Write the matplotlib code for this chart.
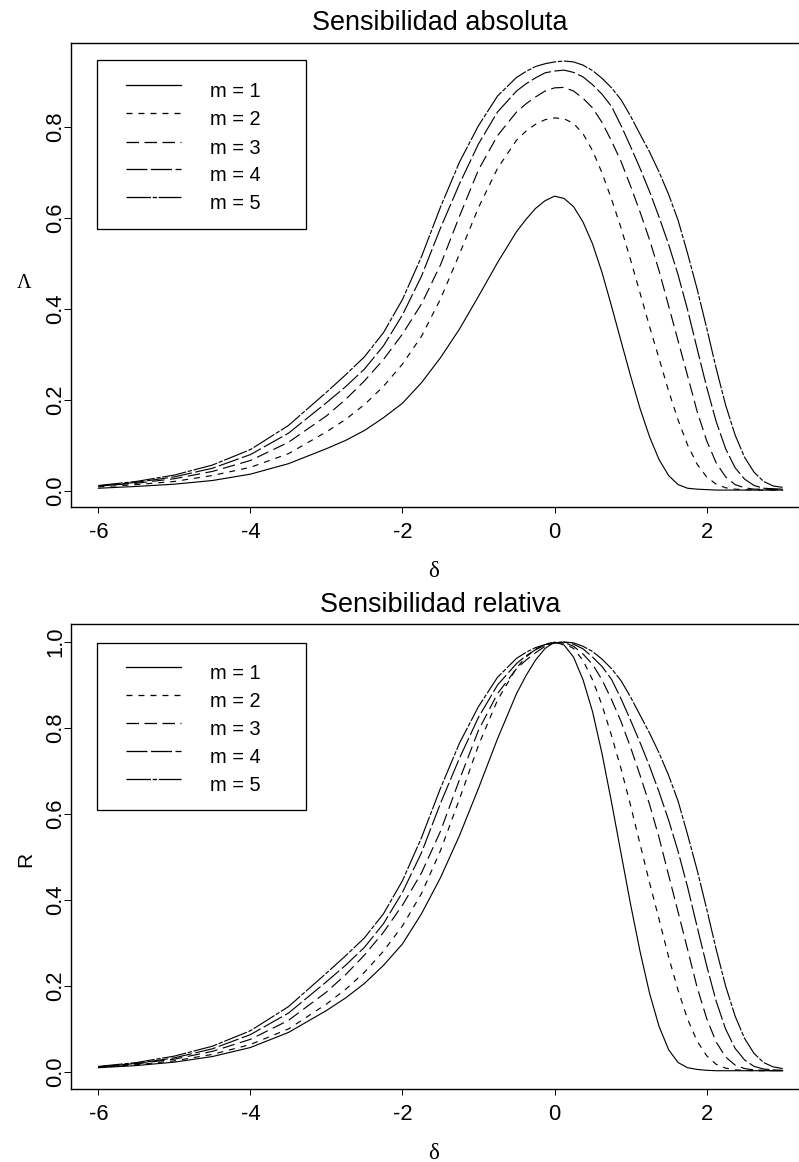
"""Absolute and relative sensitivity curves for m = 1..5, two stacked panels."""

import matplotlib

matplotlib.use("Agg")
import matplotlib.pyplot as plt
from matplotlib.lines import Line2D
from matplotlib.patches import Rectangle

FIG_W_PX = 799
FIG_H_PX = 1162
FIG_DPI = 72  # at 72 dpi one point is one pixel

DELTA = [-6, -5.5, -5, -4.5, -4, -3.5, -3, -2.75, -2.5, -2.25, -2, -1.75, -1.5,
         -1.25, -1, -0.75, -0.5, -0.375, -0.25, -0.125, 0,
         0.125, 0.25, 0.375, 0.5, 0.625, 0.75, 0.875, 1, 1.125, 1.25, 1.375, 1.5,
         1.625, 1.75, 1.875, 2, 2.125, 2.25, 2.375, 2.5, 2.625, 2.75, 2.875, 3]

# absolute sensitivity (Lambda)
ABS_M1 = [0.006, 0.010, 0.015, 0.023, 0.037, 0.060, 0.093, 0.111, 0.133, 0.161,
          0.193, 0.238, 0.293, 0.356, 0.428, 0.502, 0.570, 0.597, 0.621, 0.638, 0.648,
          0.643, 0.625, 0.591, 0.543, 0.480, 0.406, 0.329, 0.253, 0.181, 0.119,
          0.069, 0.034, 0.014, 0.006, 0.004, 0.003, 0.002, 0.002, 0.002, 0.002,
          0.002, 0.002, 0.002, 0.002]
ABS_M2 = [0.009, 0.014, 0.021, 0.034, 0.052, 0.082, 0.130, 0.157, 0.190, 0.230,
          0.279, 0.340, 0.422, 0.521, 0.623, 0.709, 0.771, 0.791, 0.806, 0.816, 0.820,
          0.818, 0.808, 0.785, 0.748, 0.699, 0.641, 0.578, 0.508, 0.435, 0.361,
          0.291, 0.220, 0.156, 0.101, 0.059, 0.031, 0.015, 0.007, 0.004, 0.003,
          0.002, 0.002, 0.002, 0.002]
ABS_M3 = [0.011, 0.017, 0.027, 0.043, 0.067, 0.107, 0.165, 0.201, 0.242, 0.289,
          0.345, 0.411, 0.497, 0.604, 0.706, 0.781, 0.833, 0.851, 0.866, 0.879, 0.886,
          0.887, 0.879, 0.863, 0.842, 0.810, 0.769, 0.724, 0.670, 0.613, 0.552,
          0.484, 0.407, 0.330, 0.253, 0.175, 0.111, 0.062, 0.031, 0.014, 0.007,
          0.004, 0.004, 0.003, 0.003]
ABS_M4 = [0.011, 0.019, 0.031, 0.050, 0.080, 0.127, 0.194, 0.229, 0.268, 0.319,
          0.387, 0.472, 0.578, 0.675, 0.763, 0.833, 0.879, 0.895, 0.908, 0.919, 0.923,
          0.925, 0.920, 0.910, 0.893, 0.872, 0.845, 0.803, 0.757, 0.709, 0.658,
          0.602, 0.542, 0.475, 0.398, 0.313, 0.229, 0.153, 0.093, 0.051, 0.026,
          0.012, 0.006, 0.005, 0.004]
ABS_M5 = [0.012, 0.021, 0.035, 0.057, 0.091, 0.144, 0.217, 0.255, 0.295, 0.348,
          0.421, 0.515, 0.624, 0.723, 0.803, 0.868, 0.909, 0.922, 0.933, 0.939, 0.943,
          0.945, 0.943, 0.936, 0.924, 0.907, 0.886, 0.860, 0.824, 0.784, 0.745,
          0.701, 0.652, 0.595, 0.522, 0.444, 0.359, 0.270, 0.189, 0.123, 0.074,
          0.041, 0.021, 0.011, 0.008]

# relative sensitivity (R)
REL_M1 = [0.010, 0.015, 0.023, 0.036, 0.057, 0.092, 0.143, 0.172, 0.206, 0.248,
          0.298, 0.368, 0.452, 0.550, 0.660, 0.775, 0.880, 0.922, 0.958, 0.985, 1.000,
          0.993, 0.965, 0.912, 0.838, 0.740, 0.627, 0.508, 0.390, 0.280, 0.183,
          0.106, 0.052, 0.022, 0.010, 0.006, 0.004, 0.003, 0.003, 0.003, 0.003,
          0.003, 0.003, 0.003, 0.003]
REL_M2 = [0.011, 0.017, 0.026, 0.041, 0.064, 0.100, 0.158, 0.192, 0.232, 0.281,
          0.340, 0.415, 0.515, 0.635, 0.760, 0.865, 0.940, 0.965, 0.983, 0.995, 1.000,
          0.997, 0.985, 0.957, 0.912, 0.853, 0.782, 0.705, 0.620, 0.530, 0.440,
          0.355, 0.268, 0.190, 0.123, 0.072, 0.038, 0.018, 0.009, 0.005, 0.004,
          0.003, 0.003, 0.003, 0.003]
REL_M3 = [0.012, 0.019, 0.030, 0.048, 0.076, 0.120, 0.186, 0.226, 0.272, 0.325,
          0.388, 0.463, 0.560, 0.680, 0.795, 0.880, 0.938, 0.958, 0.975, 0.990, 0.998,
          0.999, 0.990, 0.972, 0.948, 0.912, 0.866, 0.815, 0.755, 0.690, 0.622,
          0.545, 0.458, 0.372, 0.285, 0.197, 0.125, 0.070, 0.035, 0.016, 0.008,
          0.005, 0.004, 0.003, 0.003]
REL_M4 = [0.012, 0.020, 0.033, 0.054, 0.087, 0.137, 0.210, 0.248, 0.290, 0.345,
          0.418, 0.510, 0.625, 0.730, 0.825, 0.900, 0.950, 0.968, 0.982, 0.993, 0.998,
          1.000, 0.995, 0.984, 0.965, 0.943, 0.913, 0.868, 0.818, 0.766, 0.711,
          0.651, 0.586, 0.513, 0.430, 0.338, 0.248, 0.165, 0.100, 0.055, 0.028,
          0.013, 0.007, 0.005, 0.004]
REL_M5 = [0.013, 0.022, 0.037, 0.060, 0.096, 0.152, 0.230, 0.270, 0.312, 0.368,
          0.445, 0.545, 0.660, 0.765, 0.850, 0.918, 0.962, 0.976, 0.987, 0.994, 0.998,
          1.000, 0.998, 0.990, 0.978, 0.960, 0.938, 0.910, 0.872, 0.830, 0.788,
          0.742, 0.690, 0.630, 0.552, 0.470, 0.380, 0.286, 0.200, 0.130, 0.078,
          0.043, 0.022, 0.012, 0.008]

LABELS = ["m = 1", "m = 2", "m = 3", "m = 4", "m = 5"]
X_TICKS = [-6, -4, -2, 0, 2]
X_TICK_LABELS = ["-6", "-4", "-2", "0", "2"]

# solid, dotted, dashed, long dash, long dash-dot (on/off lengths in px)
DASHES = [None, (6, 6), (12.5, 5.5), (21, 3.5), (24.5, 1.7, 4.3, 1.7)]

GREEK_FONT = ["Liberation Serif", "DejaVu Serif"]

plt.rcParams["font.family"] = ["Liberation Sans", "DejaVu Sans"]
plt.rcParams["lines.scale_dashes"] = False


def fig_xy(x_px, y_px):
    return x_px / FIG_W_PX, 1.0 - y_px / FIG_H_PX


def line_kwargs(dash):
    if dash is None:
        return {"linestyle": "-"}
    return {"linestyle": (0, dash)}


def draw_panel(fig, top_px, bottom_px, series, ylim, yticks, ytick_labels,
               title, title_y, ylabel_text, ylabel_rot, legend_top, legend_bottom,
               legend_rows):
    left_px, width_px = 71, 739
    ax = fig.add_axes([left_px / FIG_W_PX, 1.0 - bottom_px / FIG_H_PX,
                       width_px / FIG_W_PX, (bottom_px - top_px) / FIG_H_PX])
    for values, dash in zip(series, DASHES):
        ax.plot(DELTA, values, color="black", lw=1.15, **line_kwargs(dash))

    ax.set_xlim(-6.36, 3.36)
    ax.set_ylim(*ylim)
    ax.set_xticks(X_TICKS, X_TICK_LABELS)
    ax.set_yticks(yticks, ytick_labels, rotation=90, va="center")
    ax.tick_params(axis="x", direction="out", length=6, width=1.0, pad=9, labelsize=22)
    ax.tick_params(axis="y", direction="out", length=7, width=1.0, pad=-2, labelsize=22)
    for spine in ax.spines.values():
        spine.set_linewidth(1.4)

    fig.text(*fig_xy(440, title_y), title, ha="center", va="baseline", fontsize=27)
    fig.text(*fig_xy(434, bottom_px + 70), "\u03b4", ha="center", va="baseline",
             fontsize=23, family=GREEK_FONT)
    y_mid = (top_px + bottom_px) / 2
    if ylabel_rot:
        fig.text(*fig_xy(25.5, y_mid + 3), ylabel_text, rotation=90,
                 ha="center", va="center", fontsize=21)
    else:
        fig.text(*fig_xy(24, y_mid + 13), ylabel_text, ha="center", va="baseline",
                 fontsize=20, family=GREEK_FONT)

    # legend box in the upper left corner
    x0, y0 = fig_xy(97, legend_bottom)
    x1, y1 = fig_xy(306, legend_top)
    fig.add_artist(Rectangle((x0, y0), x1 - x0, y1 - y0, transform=fig.transFigure,
                             fill=False, edgecolor="black", linewidth=1.3))
    for row_y, label, dash in zip(legend_rows, LABELS, DASHES):
        lx0, ly = fig_xy(126, row_y)
        lx1, _ = fig_xy(181, row_y)
        fig.add_artist(Line2D([lx0, lx1], [ly, ly], transform=fig.transFigure,
                              color="black", lw=1.3, **line_kwargs(dash)))
        fig.text(*fig_xy(210, row_y + 12), label, ha="left", va="baseline", fontsize=20)
    return ax


def main():
    fig = plt.figure(figsize=(FIG_W_PX / FIG_DPI, FIG_H_PX / FIG_DPI), dpi=FIG_DPI)

    draw_panel(
        fig, 43, 507,
        [ABS_M1, ABS_M2, ABS_M3, ABS_M4, ABS_M5],
        (-0.0352, 0.9846),
        [0.0, 0.2, 0.4, 0.6, 0.8], ["0.0", "0.2", "0.4", "0.6", "0.8"],
        "Sensibilidad absoluta", 30.5, "\u039b", False,
        60, 229, [85, 113.3, 141.7, 169.3, 196.7],
    )
    draw_panel(
        fig, 624, 1089,
        [REL_M1, REL_M2, REL_M3, REL_M4, REL_M5],
        (-0.0395, 1.0419),
        [0.0, 0.2, 0.4, 0.6, 0.8, 1.0], ["0.0", "0.2", "0.4", "0.6", "0.8", "1.0"],
        "Sensibilidad relativa", 612, "R", True,
        643, 810, [666.7, 695, 723.3, 751, 779],
    )

    fig.savefig("out.png", dpi=FIG_DPI)
    plt.close(fig)


if __name__ == "__main__":
    main()
